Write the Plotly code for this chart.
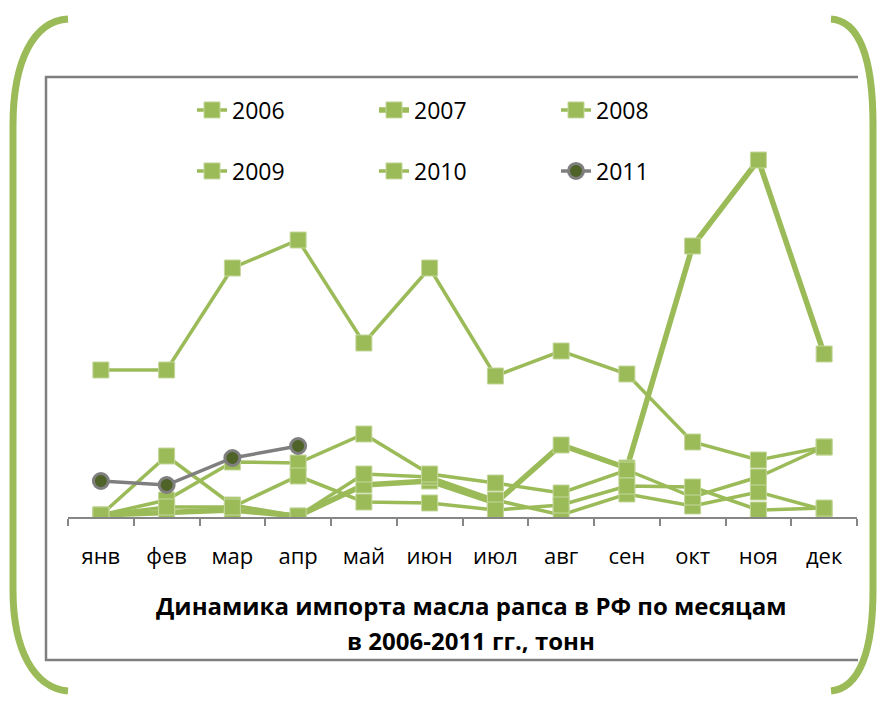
import plotly.graph_objects as go

months = ["янв", "фев", "мар", "апр", "май", "июн", "июл", "авг", "сен", "окт", "ноя", "дек"]
y2006 = [1470, 1470, 2490, 2770, 1740, 2490, 1410, 1660, 1430, 750, 570, 700]
y2007 = [20, 40, 70, 10, 320, 360, 140, 720, 490, 2710, 3570, 1630]
y2008 = [20, 610, 120, 10, 430, 400, 170, 20, 230, 110, 250, 70]
y2009 = [20, 170, 550, 540, 830, 430, 340, 240, 470, 200, 400, 700]
y2010 = [20, 100, 100, 410, 150, 140, 70, 120, 310, 300, 70, 90]
y2011 = [360, 320, 590, 710]
title_lines = ["Динамика импорта масла рапса в РФ по месяцам", "в 2006-2011 гг., тонн"]

W, H = 881, 702
GREEN = "#9BBB59"
FONT = "Open Sans"


def px(x):
    return x / W


def py(y):
    return 1 - y / H


fig = go.Figure()

green_series = [("2006", y2006, 3.5, "legend"), ("2007", y2007, 5.5, "legend"),
                ("2008", y2008, 3.5, "legend"), ("2009", y2009, 3.5, "legend2"),
                ("2010", y2010, 3.5, "legend2")]
for name, vals, lw, lg in green_series:
    fig.add_trace(go.Scatter(
        x=months, y=vals, name=name, mode="lines+markers",
        line=dict(color=GREEN, width=lw),
        marker=dict(symbol="square", size=16, color=GREEN, line=dict(color="#C4D79B", width=1)),
        legend=lg,
    ))

fig.add_trace(go.Scatter(
    x=months[:len(y2011)], y=y2011, name="2011", mode="lines+markers",
    line=dict(color="#7F7F7F", width=3.5),
    marker=dict(symbol="circle", size=15, color="#4F6228", line=dict(color="#7F7F7F", width=3)),
    legend="legend2",
))

# plot area: category axis from x=68..857 px, zero at y=517 px, 10 units per px
y_top_px = 77
y_max = (517 - y_top_px) * 10

legend_common = dict(
    orientation="h", xanchor="left", yanchor="middle",
    font=dict(family=FONT, size=23, color="#000000"),
    bgcolor="rgba(0,0,0,0)", entrywidth=137, entrywidthmode="pixels",
    itemclick=False,
)

fig.update_layout(
    width=W, height=H,
    margin=dict(l=0, r=0, t=0, b=0),
    paper_bgcolor="white", plot_bgcolor="white",
    showlegend=True,
    xaxis=dict(
        domain=[px(68), px(857)], range=[-0.5, 11.5], type="category",
        showgrid=False, zeroline=False, showline=True, linecolor="#868686", linewidth=2,
        ticks="outside", tickson="boundaries", ticklen=7, tickwidth=2, tickcolor="#868686",
        tickfont=dict(family=FONT, size=22, color="#000000"), ticklabelstandoff=19,
        fixedrange=True,
    ),
    yaxis=dict(
        domain=[py(517), py(y_top_px)], range=[0, y_max],
        showgrid=False, zeroline=False, showline=False, showticklabels=False, ticks="",
        fixedrange=True,
    ),
    legend=dict(x=px(192), y=py(110), **legend_common),
    legend2=dict(x=px(192), y=py(171), **legend_common),
)

# title as two annotations
for text, yy in zip(title_lines, (605, 640)):
    fig.add_annotation(
        x=px(471), y=py(yy), xref="paper", yref="paper", showarrow=False,
        xanchor="center", yanchor="middle",
        text="<b>" + text + "</b>",
        font=dict(family=FONT, size=24, color="#000000"),
    )

# gray frame (left, top, bottom)
frame = "M {x1},{y0} L {x0},{y0} L {x0},{y1} L {x1},{y1}".format(
    x0=px(46), x1=px(858), y0=py(77), y1=py(660))
fig.add_shape(type="path", xref="paper", yref="paper", path=frame,
              line=dict(color="#7F7F7F", width=2.5))


def path_px(points_cmd):
    out = []
    for tok in points_cmd:
        if isinstance(tok, str):
            out.append(tok)
        else:
            out.append("{:.5f},{:.5f}".format(px(tok[0]), py(tok[1])))
    return " ".join(out)


left_br = path_px(["M", (68, 19), "C", (34, 21), (13, 60), (13, 125), "L", (13, 590),
                   "C", (13, 650), (34, 688), (68, 691)])
right_br = path_px(["M", (831, 19), "C", (860, 21), (873, 60), (873, 125), "L", (873, 590),
                    "C", (873, 650), (860, 688), (831, 691)])
for p in (left_br, right_br):
    fig.add_shape(type="path", xref="paper", yref="paper", path=p,
                  line=dict(color=GREEN, width=7))

fig.write_html("out.html", config={"displayModeBar": False},
               post_script="document.body.style.margin='0px';")
